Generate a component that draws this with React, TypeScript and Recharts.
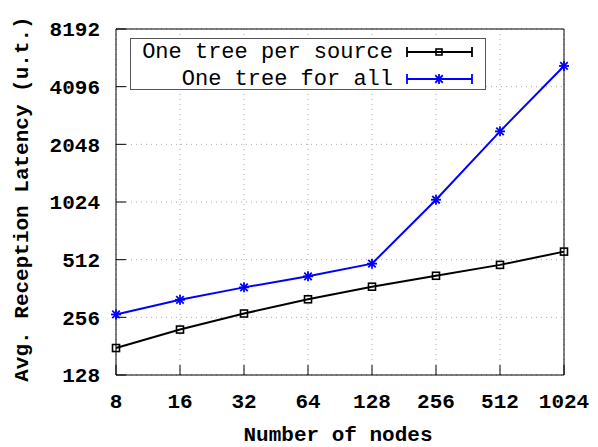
import { LineChart, Line, XAxis, YAxis, CartesianGrid, Legend } from "recharts";

const nodes = ["8", "16", "32", "64", "128", "256", "512", "1024"];
const perSource = [177, 221, 268, 318, 370, 422, 481, 564];
const forAll = [265, 316, 367, 419, 488, 1052, 2394, 5254];
const yTicks = [128, 256, 512, 1024, 2048, 4096, 8192];
const seriesOrder = ["perSource", "forAll"];

const data = nodes.map((n, i) => ({ n, perSource: perSource[i], forAll: forAll[i] }));

const FONT = '"Liberation Mono", "DejaVu Sans Mono", monospace';
const tickStyle = { fill: "#000", fontFamily: FONT, fontSize: 21, fontWeight: "bold" as const };

const Square = ({ cx, cy, size = 3.5 }: any) => (
  <rect x={cx - size} y={cy - size} width={size * 2} height={size * 2} fill="none" stroke="#000" strokeWidth={1.6} />
);

const Star = ({ cx, cy, r = 5 }: any) => {
  const d = r * 0.75;
  return (
    <g stroke="#0000ff" strokeWidth={1.8}>
      <line x1={cx - r} y1={cy} x2={cx + r} y2={cy} />
      <line x1={cx} y1={cy - r} x2={cx} y2={cy + r} />
      <line x1={cx - d} y1={cy - d} x2={cx + d} y2={cy + d} />
      <line x1={cx - d} y1={cy + d} x2={cx + d} y2={cy - d} />
    </g>
  );
};

// legend box drawn like gnuplot's key, with error-bar samples
const KeyBox = ({ payload }: any) => {
  const rows = [...(payload || [])].sort(
    (a: any, b: any) => seriesOrder.indexOf(a.dataKey) - seriesOrder.indexOf(b.dataKey)
  );
  return (
    <svg width={356} height={52} style={{ display: "block" }}>
      <rect x={0.5} y={0.5} width={355} height={51} fill="#fff" stroke="#555" strokeWidth={1} />
      {rows.map((item: any, i: number) => {
        const y = 14 + i * 27;
        const color = item.color;
        return (
          <g key={item.value}>
            <text x={263} y={y} textAnchor="end" dominantBaseline="central" fontFamily={FONT} fontSize={22} fill="#000">
              {item.value}
            </text>
            <g stroke={color} strokeWidth={1.8}>
              <line x1={277} y1={y} x2={342} y2={y} />
              <line x1={277} y1={y - 5} x2={277} y2={y + 5} />
              <line x1={342} y1={y - 5} x2={342} y2={y + 5} />
            </g>
            {item.dataKey === "perSource" ? <Square cx={309} cy={y} size={3} /> : <Star cx={309} cy={y} r={5} />}
          </g>
        );
      })}
    </svg>
  );
};

export default function App() {
  return (
    <div style={{ position: "absolute", left: 0, top: 0, background: "#fff" }}>
      <LineChart
        width={598}
        height={447}
        data={data}
        margin={{ top: 28, right: 33, bottom: 32, left: 46 }}
      >
        <CartesianGrid stroke="#aaa" strokeDasharray="1 4" />
        <XAxis
          dataKey="n"
          interval={0}
          height={40}
          tickSize={-10}
          tickMargin={28}
          tick={tickStyle}
          stroke="#000"
          tickLine={{ stroke: "#000" }}
          label={{
            content: () => (
              <text x={338} y={441} textAnchor="middle" fontFamily={FONT} fontSize={21} fontWeight="bold" fill="#000">
                Number of nodes
              </text>
            ),
          }}
        />
        <XAxis xAxisId="t" dataKey="n" orientation="top" interval={0} height={1} tickSize={-10} tick={false} stroke="#000" />
        <YAxis
          scale="log"
          domain={[128, 8192]}
          ticks={yTicks}
          allowDataOverflow
          width={70}
          tickSize={-10}
          tickMargin={26}
          tick={tickStyle}
          stroke="#000"
          label={{
            content: () => (
              <text
                x={22}
                y={199}
                transform="rotate(-90 22 199)"
                textAnchor="middle"
                dominantBaseline="central"
                fontFamily={FONT}
                fontSize={21}
                fontWeight="bold"
                fill="#000"
              >
                Avg. Reception Latency (u.t.)
              </text>
            ),
          }}
        />
        <YAxis
          yAxisId="r"
          orientation="right"
          scale="log"
          domain={[128, 8192]}
          ticks={yTicks}
          allowDataOverflow
          width={1}
          tickSize={-10}
          tick={false}
          stroke="#000"
        />
        <Legend
          layout="vertical"
          align="center"
          verticalAlign="middle"
          wrapperStyle={{ left: 130, top: 38, width: 356, height: 52 }}
          content={<KeyBox />}
        />
        <Line
          dataKey="perSource"
          name="One tree per source"
          stroke="#000"
          strokeWidth={2}
          isAnimationActive={false}
          dot={(p: any) => <Square key={`sq-${p.index}`} cx={p.cx} cy={p.cy} />}
        />
        <Line
          dataKey="forAll"
          name="One tree for all"
          stroke="#0000ff"
          strokeWidth={2}
          isAnimationActive={false}
          dot={(p: any) => <Star key={`st-${p.index}`} cx={p.cx} cy={p.cy} />}
        />
      </LineChart>
    </div>
  );
}
